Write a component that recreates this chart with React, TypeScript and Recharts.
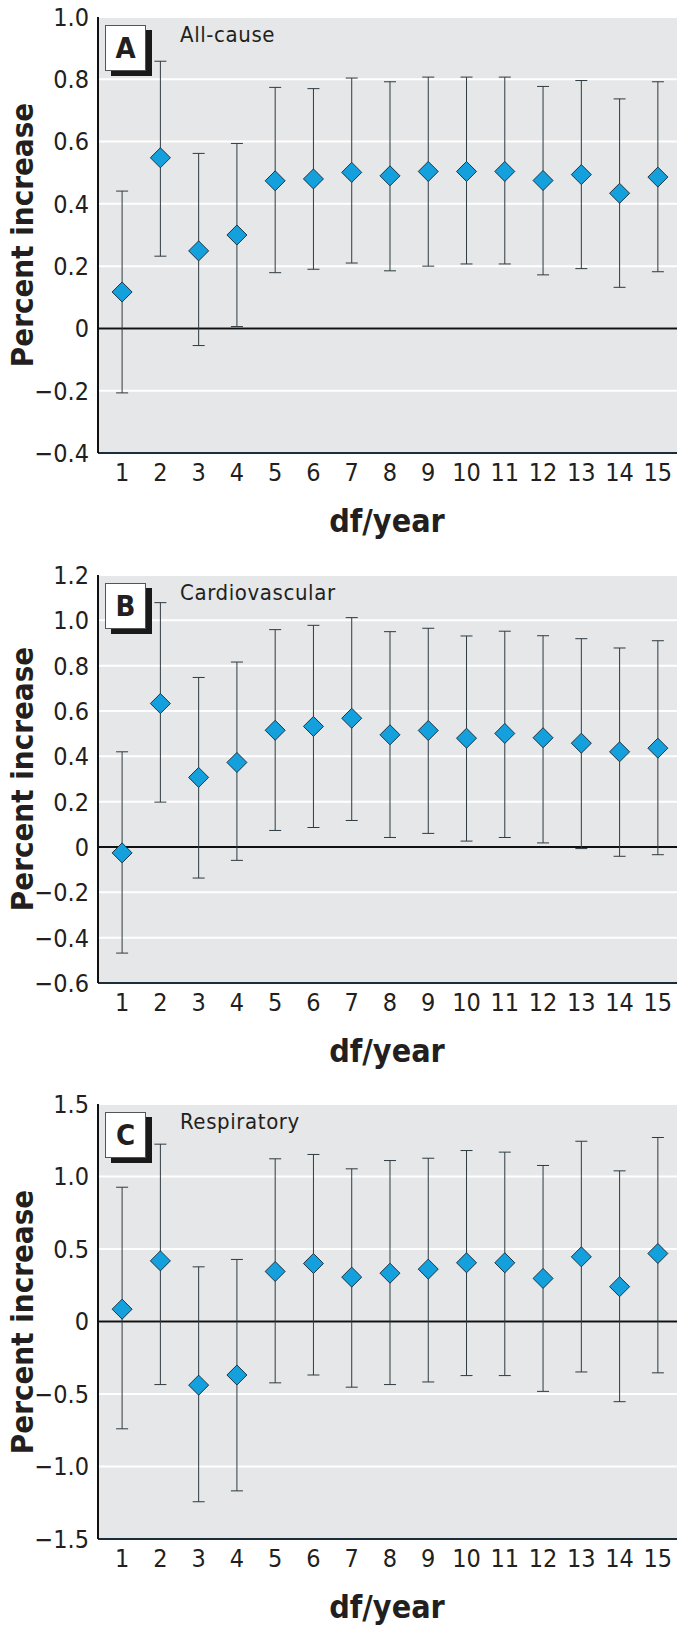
import React from "react";
import {
  ScatterChart,
  Scatter,
  XAxis,
  YAxis,
  CartesianGrid,
  ErrorBar,
  ReferenceLine,
} from "recharts";

// df per year, 1..15
const dfYear = [1, 2, 3, 4, 5, 6, 7, 8, 9, 10, 11, 12, 13, 14, 15];

// A: all-cause
const allCauseEst = [0.117, 0.548, 0.249, 0.3, 0.474, 0.48, 0.501, 0.49, 0.504, 0.504, 0.504, 0.475, 0.494, 0.434, 0.486];
const allCauseLow = [-0.207, 0.232, -0.055, 0.006, 0.179, 0.19, 0.21, 0.185, 0.2, 0.207, 0.207, 0.172, 0.192, 0.132, 0.182];
const allCauseHigh = [0.441, 0.858, 0.562, 0.594, 0.774, 0.77, 0.804, 0.792, 0.807, 0.807, 0.807, 0.777, 0.796, 0.737, 0.792];
const allCauseTicks = [-0.4, -0.2, 0, 0.2, 0.4, 0.6, 0.8, 1.0];

// B: cardiovascular
const cardioEst = [-0.026, 0.633, 0.307, 0.373, 0.515, 0.532, 0.568, 0.495, 0.514, 0.48, 0.501, 0.482, 0.458, 0.42, 0.436];
const cardioLow = [-0.468, 0.198, -0.137, -0.059, 0.073, 0.086, 0.117, 0.042, 0.06, 0.026, 0.042, 0.018, -0.007, -0.041, -0.034];
const cardioHigh = [0.42, 1.078, 0.748, 0.816, 0.959, 0.978, 1.012, 0.95, 0.965, 0.931, 0.952, 0.932, 0.919, 0.878, 0.91];
const cardioTicks = [-0.6, -0.4, -0.2, 0, 0.2, 0.4, 0.6, 0.8, 1.0, 1.2];

// C: respiratory
const respEst = [0.085, 0.418, -0.439, -0.369, 0.345, 0.4, 0.306, 0.333, 0.361, 0.405, 0.405, 0.297, 0.446, 0.24, 0.469];
const respLow = [-0.74, -0.435, -1.243, -1.168, -0.423, -0.369, -0.453, -0.435, -0.417, -0.373, -0.373, -0.482, -0.348, -0.553, -0.354];
const respHigh = [0.926, 1.223, 0.377, 0.428, 1.122, 1.152, 1.053, 1.11, 1.126, 1.179, 1.168, 1.076, 1.243, 1.039, 1.269];
const respTicks = [-1.5, -1.0, -0.5, 0, 0.5, 1.0, 1.5];

const FONT = "'Liberation Sans Narrow', 'DejaVu Sans Condensed', 'Arial Narrow', 'Liberation Sans', sans-serif";
const INK = "#231f20";

const fmt = (v: number) => (v === 0 ? "0" : (v < 0 ? "\u2212" : "") + Math.abs(v).toFixed(1));

const Diamond = (props: any) => {
  const { cx, cy } = props;
  if (cx == null || cy == null) return null;
  const r = 10;
  return (
    <polygon
      points={`${cx},${cy - r} ${cx + r},${cy} ${cx},${cy + r} ${cx - r},${cy}`}
      fill="#14a0dc"
      stroke="#1d3442"
      strokeWidth={1}
    />
  );
};

interface PanelProps {
  top: number;
  height: number;
  plotTop: number;
  plotH: number;
  ticks: number[];
  est: number[];
  low: number[];
  high: number[];
  letter: string;
  title: string;
}

function Panel({ top, height, plotTop, plotH, ticks, est, low, high, letter, title }: PanelProps) {
  const data = dfYear.map((d, i) => ({
    x: d,
    y: est[i],
    err: [est[i] - low[i], high[i] - est[i]],
  }));
  const absTop = top + plotTop;
  return (
    <>
      <div style={{ position: "absolute", left: 0, top, width: 682, height }}>
        <ScatterChart width={682} height={height} margin={{ top: plotTop, right: 5, bottom: 0, left: 0 }}>
          <CartesianGrid vertical={false} fill="#e6e7e8" stroke="#ffffff" strokeWidth={2} />
          <XAxis
            type="number"
            dataKey="x"
            domain={[0.37, 15.5]}
            ticks={dfYear}
            allowDataOverflow
            height={height - plotTop - plotH}
            tickLine={false}
            tickSize={0}
            tickMargin={10}
            axisLine={{ stroke: "#1b2f3a", strokeWidth: 2 }}
            tick={{ fontSize: 25, fill: INK, fontFamily: FONT }}
            interval={0}
          />
          <YAxis
            type="number"
            dataKey="y"
            domain={[ticks[0], ticks[ticks.length - 1]]}
            ticks={ticks}
            width={98}
            tickLine={false}
            tickSize={0}
            tickMargin={9}
            tickFormatter={fmt}
            axisLine={{ stroke: "#111111", strokeWidth: 2 }}
            tick={{ fontSize: 25, fill: INK, fontFamily: FONT }}
            interval={0}
          />
          <ReferenceLine y={0} stroke="#111111" strokeWidth={2} />
          <Scatter data={data} shape={<Diamond />} isAnimationActive={false}>
            <ErrorBar dataKey="err" direction="y" width={6} stroke="#2e3b42" strokeWidth={1} />
          </Scatter>
        </ScatterChart>
      </div>
      {/* panel letter box */}
      <div style={{ position: "absolute", left: 111, top: absTop + 13, width: 41, height: 46, background: "#1a1a1a" }} />
      <div
        style={{
          position: "absolute",
          left: 105,
          top: absTop + 8,
          width: 39,
          height: 44,
          background: "#fff",
          border: "1px solid #555",
          fontFamily: FONT,
          fontWeight: "bold",
          fontSize: 29,
          lineHeight: "44px",
          textAlign: "center",
          color: INK,
        }}
      >
        {letter}
      </div>
      <div
        style={{
          position: "absolute",
          left: 180,
          top: absTop + 3,
          fontFamily: FONT,
          fontSize: 22,
          lineHeight: "30px",
          letterSpacing: 0.6,
          color: INK,
          whiteSpace: "nowrap",
        }}
      >
        {title}
      </div>
      <div
        style={{
          position: "absolute",
          left: 22,
          top: absTop + plotH / 2,
          transform: "translate(-50%, -50%) rotate(-90deg)",
          fontFamily: FONT,
          fontWeight: "bold",
          fontSize: 31,
          lineHeight: "34px",
          color: INK,
          whiteSpace: "nowrap",
        }}
      >
        Percent increase
      </div>
      <div
        style={{
          position: "absolute",
          left: 387,
          top: absTop + plotH + 68,
          transform: "translate(-50%, -50%)",
          fontFamily: FONT,
          fontWeight: "bold",
          fontSize: 32,
          lineHeight: "36px",
          color: INK,
          whiteSpace: "nowrap",
        }}
      >
        df/year
      </div>
    </>
  );
}

export default function App() {
  return (
    <div style={{ position: "absolute", left: 0, top: 0, width: 682, height: 1633, background: "#fff", overflow: "hidden" }}>
      <Panel top={0} height={545} plotTop={17} plotH={436} ticks={allCauseTicks}
        est={allCauseEst} low={allCauseLow} high={allCauseHigh} letter="A" title="All-cause" />
      <Panel top={545} height={530} plotTop={30} plotH={408} ticks={cardioTicks}
        est={cardioEst} low={cardioLow} high={cardioHigh} letter="B" title="Cardiovascular" />
      <Panel top={1075} height={558} plotTop={29} plotH={435} ticks={respTicks}
        est={respEst} low={respLow} high={respHigh} letter="C" title="Respiratory" />
    </div>
  );
}
